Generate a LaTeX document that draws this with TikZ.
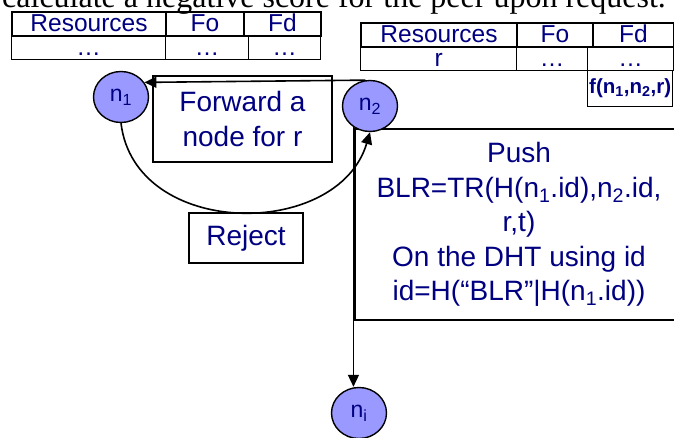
\documentclass[tikz,border=0pt]{standalone}
\usepackage{fontspec}
\setmainfont{Liberation Sans}
\newfontfamily\capfont{Liberation Serif}
\usetikzlibrary{arrows.meta,shapes.geometric}
\definecolor{navy}{RGB}{0,0,128}
\definecolor{lavender}{RGB}{153,153,255}
\tikzset{
  >={Triangle[length=12pt,width=11pt]},
  flow/.style={->,line width=1.6pt,draw=black},
  peer/.style={ellipse,draw=black,line width=1.4pt,fill=lavender,inner sep=0pt,
    minimum width=55pt,minimum height=51pt,text=navy,font=\fontsize{23}{26}\selectfont},
  msg box/.style={draw=black,line width=1.5pt,inner sep=0pt,align=center,
    text=navy,font=\fontsize{28}{34.5}\selectfont},
  cell/.style={draw=black,inner sep=0pt,anchor=north west,text=navy,
    font=\fontsize{24.5}{28}\selectfont,text height=18pt,text depth=2pt},
  headcell/.style={cell,line width=2pt,minimum width=#1,minimum height=24pt},
  datacell/.style={cell,line width=1.3pt,minimum width=#1,minimum height=24pt},
}
\begin{document}
\begin{tikzpicture}[x=1pt,y=-1pt]
  \useasboundingbox (0,0) rectangle (674,438);
  \clip (0,0) rectangle (674,438);
  \node[anchor=base west,inner sep=0pt,font=\capfont\fontsize{32}{36}\selectfont] (caption) at (2,7.5)
    {calculate a negative score for the peer upon request.};
  % table of n1
  \node[datacell=154pt] (lres) at (11,35) {…};
  \node[datacell=83pt] (lfo) at (165,35) {…};
  \node[datacell=72pt] (lfd) at (248,35) {…};
  \node[headcell=154pt] (lhres) at (11,11) {Resources};
  \node[headcell=78pt] (lhfo) at (165,11) {Fo};
  \node[headcell=77pt] (lhfd) at (243,11) {Fd};
  % table of n2
  \node[datacell=156pt] (rres) at (360,46) {r};
  \node[datacell=71pt] (rfo) at (516,46) {…};
  \node[datacell=86pt] (rfd) at (587,46) {…};
  \node[headcell=156pt] (rhres) at (360,22) {Resources};
  \node[headcell=76pt] (rhfo) at (516,22) {Fo};
  \node[headcell=81pt] (rhfd) at (592,22) {Fd};
  \node[cell,line width=1.3pt,minimum width=85pt,minimum height=36pt,
    font=\fontsize{20.5}{24}\selectfont\bfseries,text height=14pt,text depth=4pt] (score) at (587,70)
    {f(n\textsubscript{1},n\textsubscript{2},r)};
  % messages
  \node[msg box,minimum width=179pt,minimum height=86pt] (fwd) at (242.5,119) {Forward a\\node for r};
  \node[msg box,minimum width=114pt,minimum height=50pt] (rej) at (246,238) {Reject};
  \node[msg box,minimum width=328pt,minimum height=191pt] (push) at (519,224.5)
    {Push\\BLR=TR(H(n\textsubscript{1}.id),n\textsubscript{2}.id,\\r,t)\\On the DHT using id\\id=H(“BLR”|H(n\textsubscript{1}.id))};
  % peers
  \node[peer] (n1) at (121,97) {n\textsubscript{1}};
  \node[peer] (n2) at (370,106) {n\textsubscript{2}};
  \node[peer] (ni) at (359,413) {n\textsubscript{i}};
  \draw[flow] (n2.100) -- (n1.32);
  \draw[flow] (n1.south) .. controls +(14,116) and +(-32,108) .. (n2.south);
  \draw[flow] (n2.232) -- (n2.232 |- ni.north);
\end{tikzpicture}
\end{document}
